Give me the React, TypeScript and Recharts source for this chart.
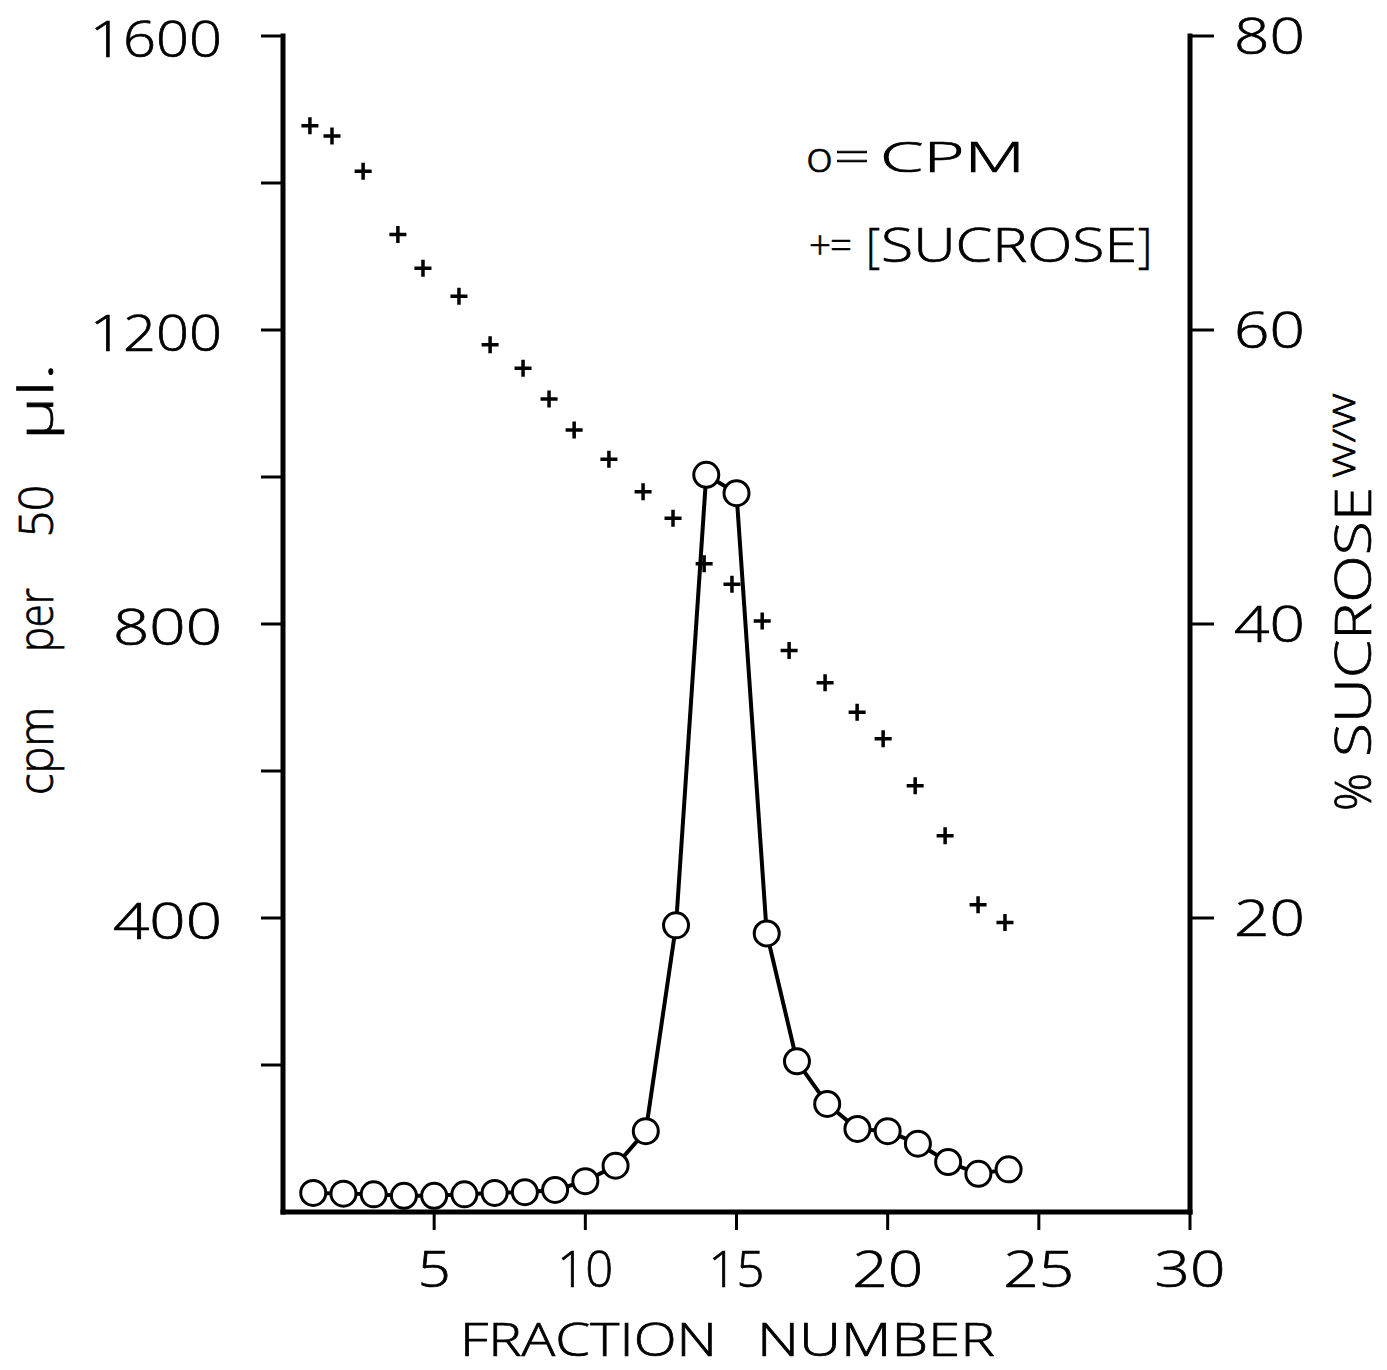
import { ComposedChart, Line, Scatter, XAxis, YAxis } from 'recharts'

// fraction number / cpm per 50 µl (open circles)
const fractions = [1, 2, 3, 4, 5, 6, 7, 8, 9, 10, 11, 12, 13, 14, 15, 16, 17, 18, 19, 20, 21, 22, 23, 24]
const cpm = [26, 25, 24, 22, 22, 24, 26, 27, 30, 42, 63, 110, 390, 1003, 978, 379, 205, 147, 113, 110, 93, 68, 52, 58]

// % sucrose w/w (crosses), x
const sucroseX = [0.89, 1.62, 2.65, 3.8, 4.63, 5.82, 6.85, 7.94, 8.8, 9.63, 10.78, 11.91, 12.9, 13.93, 14.85, 15.85, 16.74, 17.93, 18.99, 19.85, 20.91, 21.9, 22.99, 23.88]
const sucrose = [73.9, 73.2, 70.8, 66.5, 64.2, 62.3, 59.0, 57.4, 55.3, 53.2, 51.2, 49.0, 47.2, 44.1, 42.7, 40.2, 38.2, 36.0, 34.0, 32.2, 29.0, 25.6, 20.9, 19.7]

const xTicks = [5, 10, 15, 20, 25, 30]
const cpmTicks = [200, 400, 600, 800, 1000, 1200, 1400, 1600]
const sucroseTicks = [20, 40, 60, 80]

const cpmData = fractions.map((f, i) => ({ x: f, cpm: cpm[i] }))
const sucroseData = sucroseX.map((f, i) => ({ x: f, sucrose: sucrose[i] }))

const font = {
  fontFamily: "'Open Sans', 'DejaVu Sans', sans-serif",
  fontWeight: 300,
  fill: '#000',
  stroke: '#000',
  strokeWidth: 0.7,
}

// hand lettered digits are wide, '1' narrow
const numWidth = (s: string) => s.split('').reduce((w, c) => w + (c === '1' ? 18 : 33), 0) + (s.length - 1) * 5

function LeftTick({ x, y, payload }: any) {
  const v = payload.value
  if (v % 400 !== 0) return <g />
  const s = String(v)
  return (
    <text x={x} y={y + 21} textAnchor="end" fontSize={50} textLength={numWidth(s)} lengthAdjust="spacingAndGlyphs" style={font}>
      {s}
    </text>
  )
}

function RightTick({ x, y, payload }: any) {
  const s = String(payload.value)
  return (
    <text x={x} y={y + 18} textAnchor="start" fontSize={50} textLength={numWidth(s)} lengthAdjust="spacingAndGlyphs" style={font}>
      {s}
    </text>
  )
}

function BottomTick({ x, y, payload }: any) {
  const s = String(payload.value)
  return (
    <text x={x} y={y + 37} textAnchor="middle" fontSize={50} textLength={numWidth(s)} lengthAdjust="spacingAndGlyphs" style={font}>
      {s}
    </text>
  )
}

function Cross({ cx, cy }: any) {
  return <path d={`M${cx - 8.5},${cy}H${cx + 8.5}M${cx},${cy - 8.5}V${cy + 8.5}`} stroke="#000" strokeWidth={3.5} />
}

const axisLine = { stroke: '#000', strokeWidth: 5, strokeLinecap: 'square' as const }
const tickLine = { stroke: '#000', strokeWidth: 3 }

function T({ x, y, len, size, rot, children }: any) {
  return (
    <text
      x={x} y={y} fontSize={size} textLength={len} lengthAdjust="spacingAndGlyphs"
      transform={rot ? `rotate(-90 ${x} ${y})` : undefined}
      style={font}
    >
      {children}
    </text>
  )
}

export default function App() {
  return (
    <div style={{ position: 'absolute', left: 0, top: 0, width: 1387, height: 1370, background: '#fff' }}>
      <ComposedChart width={1387} height={1370} margin={{ top: 36, right: 0, bottom: 0, left: 0 }}>
        <XAxis
          type="number" dataKey="x" domain={[0, 30]} ticks={xTicks} height={158}
          axisLine={axisLine} tickLine={tickLine} tickSize={18} tickMargin={20} tick={<BottomTick />}
        />
        <YAxis
          yAxisId="cpm" domain={[0, 1600]} ticks={cpmTicks} width={283}
          axisLine={axisLine} tickLine={tickLine} tickSize={22} tickMargin={39} tick={<LeftTick />}
        />
        <YAxis
          yAxisId="suc" orientation="right" domain={[0, 80]} ticks={sucroseTicks} width={197}
          axisLine={axisLine} tickLine={tickLine} tickSize={24} tickMargin={20} tick={<RightTick />}
        />
        <Scatter yAxisId="suc" data={sucroseData} dataKey="sucrose" shape={<Cross />} isAnimationActive={false} />
        <Line
          yAxisId="cpm" data={cpmData} dataKey="cpm" type="linear"
          stroke="#000" strokeWidth={4}
          dot={{ r: 12.5, fill: '#fff', stroke: '#000', strokeWidth: 3 }}
          isAnimationActive={false}
        />
      </ComposedChart>

      <svg width={1387} height={1370} style={{ position: 'absolute', left: 0, top: 0, pointerEvents: 'none' }}>
        {/* left axis title */}
        <T x={53} y={795} len={88} size={48} rot>cpm</T>
        <T x={53} y={652} len={64} size={48} rot>per</T>
        <T x={53} y={537} len={52} size={48} rot>50</T>
        <T x={53} y={440} len={77} size={48} rot>µl.</T>

        {/* right axis title */}
        <T x={1371} y={811} len={38} size={49} rot>%</T>
        <T x={1371} y={757} len={270} size={49} rot>SUCROSE</T>
        <T x={1355} y={478} len={85} size={31} rot>W/W</T>

        {/* x axis title */}
        <T x={460} y={1356} len={257} size={46}>FRACTION</T>
        <T x={757} y={1356} len={238} size={46}>NUMBER</T>

        {/* legend */}
        <T x={806} y={172} len={27} size={42}>o</T>
        <T x={834} y={172} len={36} size={44}>=</T>
        <T x={880} y={172} len={145} size={42}>CPM</T>
        <T x={809} y={259} len={22} size={40}>+</T>
        <T x={830} y={259} len={22} size={40}>=</T>
        <T x={866} y={262} len={14} size={48}>[</T>
        <T x={881} y={262} len={256} size={47}>SUCROSE</T>
        <T x={1138} y={262} len={14} size={48}>]</T>
      </svg>
    </div>
  )
}
